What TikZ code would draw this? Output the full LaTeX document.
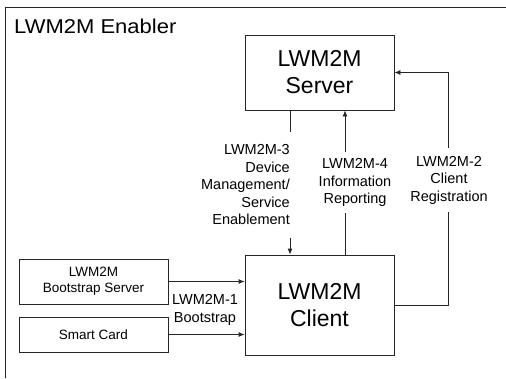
\documentclass[tikz,border=0pt]{standalone}
\usepackage{fontspec}
\setmainfont{Liberation Sans}
\newfontfamily\widesans[FakeStretch=1.1]{Liberation Sans}
\usetikzlibrary{arrows.meta}

\tikzset{
  wire/.style={line width=0.8pt, draw=black!85},
  arr/.style={wire, -{Latex[length=6pt,width=5pt]}},
  bigbox/.style={draw=black!85, line width=0.8pt, rectangle, minimum width=149pt,
    align=center, font=\fontsize{23}{27}\selectfont, inner sep=0pt},
  smallbox/.style={draw=black!85, line width=0.8pt, rectangle, minimum width=149pt,
    align=center, font=\fontsize{13.5}{16}\selectfont, inner sep=0pt},
  lbl/.style={font=\fontsize{14.5}{17.5}\selectfont, inner xsep=1.5pt, inner ysep=0pt}
}

\begin{document}
\begin{tikzpicture}[x=1pt, y=-1pt]
  \useasboundingbox (0,0) rectangle (506,378);

  % enabler frame (open on the right and bottom)
  \draw[wire] (5.5,378) -- (5.5,7) -- (506,7);
  \node[anchor=base west, font=\widesans\fontsize{20}{24}\selectfont, inner sep=0pt]
    (title) at (14,33.3) {LWM2M Enabler};

  % main boxes
  \node[bigbox, minimum height=75pt] (server) at (319.5,72.5) {LWM2M\\Server};
  \node[bigbox, minimum height=100pt] (client) at (319.5,305) {LWM2M\\Client};
  \node[smallbox, minimum height=45pt] (bs) at (93.5,281.5) {LWM2M\\Bootstrap Server};
  \node[smallbox, minimum height=35pt] (sc) at (93.5,334.5) {Smart Card};

  % x positions of the vertical interfaces
  \coordinate (x3) at (290,0);
  \coordinate (x4) at (345,0);
  \coordinate (x2) at (448.5,0);

  % interfaces
  \draw[arr] (server.south -| x3) -- (client.north -| x3);
  \draw[arr] (client.north -| x4) -- (server.south -| x4);
  \draw[arr] (client.east) -- (client.east -| x2) |- (server.east);
  \draw[arr] (bs.east) -- (bs.east -| client.west);
  \draw[arr] (sc.east) -- (sc.east -| client.west);

  % interface labels
  \node[lbl, fill=white, align=right, anchor=east, minimum height=106pt]
    (l3) at (291.5,185) {LWM2M-3\\Device\\Management/\\Service\\Enablement};
  \node[lbl, fill=white, align=center, minimum height=61pt]
    (l4) at (355,182.5) {LWM2M-4\\Information\\Reporting};
  \node[lbl, fill=white, align=center, minimum height=64pt]
    (l2) at (449,180) {LWM2M-2\\Client\\Registration};
  \node[lbl, align=center] (l1) at (205,310) {LWM2M-1\\Bootstrap};
\end{tikzpicture}
\end{document}
